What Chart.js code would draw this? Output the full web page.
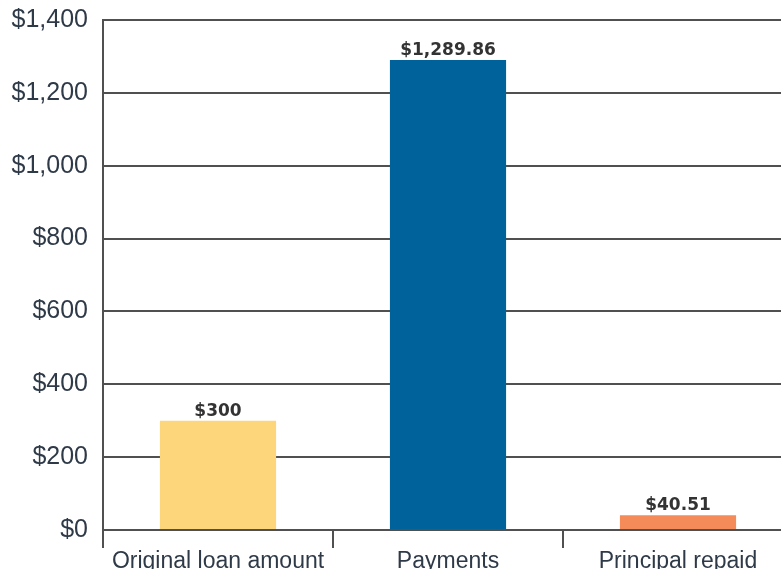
<!DOCTYPE html>
<html>
<head>
<meta charset="utf-8">
<script src="https://cdn.jsdelivr.net/npm/chart.js@4"></script>
<style>
html,body{margin:0;padding:0;background:#fff;overflow:hidden;width:781px;height:569px;}
#wrap{position:absolute;left:0;top:0;width:800px;height:575px;}
</style>
</head>
<body>
<div id="wrap"><canvas id="c" width="800" height="575"></canvas></div>
<script>
const categories = ["Original loan amount", "Payments", "Principal repaid"];
const values = [300, 1289.86, 40.51];
const valueLabels = ["$300", "$1,289.86", "$40.51"];
const barColors = ["#FDD57B", "#00629B", "#F58B58"];
const yTicks = [0, 200, 400, 600, 800, 1000, 1200, 1400];

const labelPlugin = {
  id: 'valueLabels',
  afterDatasetsDraw(chart) {
    const ctx = chart.ctx;
    const meta = chart.getDatasetMeta(0);
    ctx.save();
    ctx.font = 'bold 17px "DejaVu Sans"';
    ctx.fillStyle = '#333';
    ctx.textAlign = 'center';
    ctx.textBaseline = 'alphabetic';
    meta.data.forEach((bar, i) => {
      ctx.fillText(valueLabels[i], bar.x, bar.y - 5);
    });
    ctx.restore();
  }
};

new Chart(document.getElementById('c'), {
  type: 'bar',
  data: {
    labels: categories,
    datasets: [{
      data: values,
      backgroundColor: barColors,
      borderWidth: 0,
      barPercentage: 0.505,
      categoryPercentage: 1
    }]
  },
  options: {
    responsive: false,
    animation: false,
    layout: { padding: { top: 0, right: 7, left: 0, bottom: 0 } },
    plugins: { legend: { display: false }, tooltip: { enabled: false } },
    scales: {
      x: {
        offset: true,
        grid: {
          offset: true,
          drawOnChartArea: false,
          drawTicks: true,
          tickLength: 18,
          color: '#505050',
          lineWidth: 2
        },
        border: { display: true, color: '#505050', width: 2 },
        ticks: {
          color: '#2f3a48',
          font: { family: '"Liberation Sans"', size: 23, lineHeight: 1 },
          padding: 2,
          maxRotation: 0
        }
      },
      y: {
        min: 0,
        max: 1400,
        afterBuildTicks(axis) { axis.ticks = yTicks.map(v => ({ value: v })); },
        afterFit(axis) { axis.width = 103; axis.paddingTop = 20; axis.paddingBottom = 0; },
        grid: {
          drawTicks: false,
          color: '#505050',
          lineWidth: 2
        },
        border: { display: true, color: '#505050', width: 2 },
        ticks: {
          color: '#2f3a48',
          font: { family: '"Liberation Sans"', size: 25 },
          padding: 15,
          callback: v => '$' + Number(v).toLocaleString('en-US')
        }
      }
    }
  },
  plugins: [labelPlugin]
});
</script>
</body>
</html>
